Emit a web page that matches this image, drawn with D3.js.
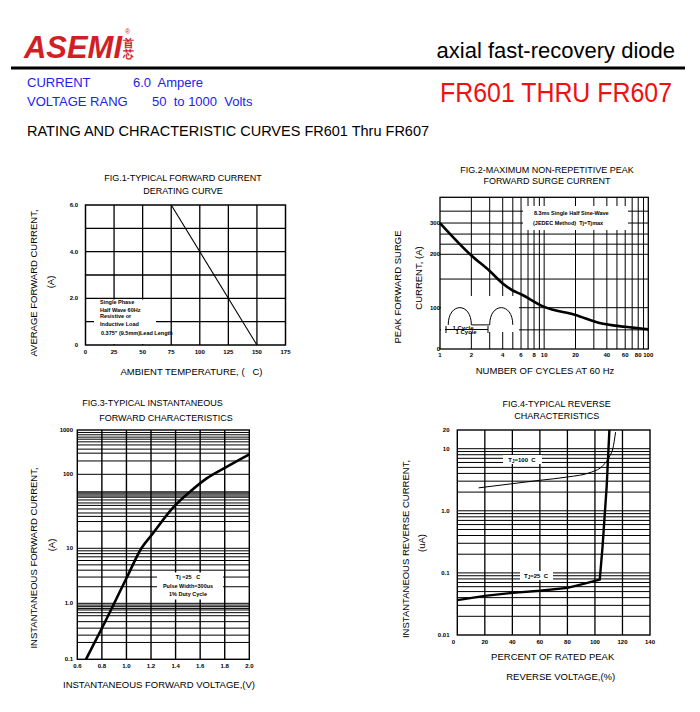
<!DOCTYPE html>
<html><head><meta charset="utf-8">
<script src="https://cdn.jsdelivr.net/npm/d3@7"></script>
<style>body{margin:0;background:#fff;} text{font-family:"Liberation Sans",Arial,sans-serif;white-space:pre;}</style>
</head><body><script>
// ---------------- DATA ----------------
const headerTitle = "axial fast-recovery diode";
const partRange = "FR601 THRU FR607";
const specLabels = ["CURRENT", "VOLTAGE RANG"];
const specValues = ["6.0  Ampere", "50  to 1000  Volts"];
const pageHeading = "RATING AND CHRACTERISTIC CURVES FR601 Thru FR607";

// Fig.1 derating
const f1Title = ["FIG.1-TYPICAL FORWARD CURRENT", "DERATING CURVE"];
const f1XTicks = [0, 25, 50, 75, 100, 125, 150, 175];
const f1YGrid = [1, 2, 3, 4, 5];
const f1YTicks = [0, 2, 4, 6];
const f1YTickLabels = ["0", "2.0", "4.0", "6.0"];
const f1Temp = [75, 150];
const f1Current = [6.0, 0];
const f1Notes = ["Single Phase", "Half Wave 60Hz", "Resistive or", "Inductive Load", "0.375\" (9.5mm)Lead Length"];

// Fig.2 surge
const f2Title = ["FIG.2-MAXIMUM NON-REPETITIVE PEAK", "FORWARD SURGE CURRENT"];
const f2XGrid = [2, 3, 4, 5, 6, 7, 8, 9, 10, 20, 30, 40, 50, 60, 70, 80, 90];
const f2XTicks = [1, 2, 4, 6, 8, 10, 20, 40, 60, 80, 100];
const f2YGrid = [75, 100, 145, 200, 228, 260, 300, 350];
const f2YTickVals = [58.5, 100, 200, 300];
const f2YTickLabels = ["0", "100", "200", "300"];
const f2Cycles = [1, 2, 3, 4, 5, 6, 10, 20, 34, 60, 100];
const f2Surge = [300, 197, 161, 137, 125, 119, 101, 91, 82, 78, 75.5];
const f2Notes = ["8.3ms Single Half Sine-Wave", "(JEDEC Method)  Tj=Tjmax"];

// Fig.3 forward
const f3Title = ["FIG.3-TYPICAL INSTANTANEOUS", "FORWARD CHARACTERISTICS"];
const f3XTicks = [0.6, 0.8, 1.0, 1.2, 1.4, 1.6, 1.8, 2.0];
const f3XTickLabels = ["0.6", "0.8", "1.0", "1.2", "1.4", "1.6", "1.8", "2.0"];
const f3YDecades = [0.1, 1, 10, 100, 1000];
const f3YDecadeLabels = ["0.1", "1.0", "10", "100", "1000"];
const f3YGrid = [0.2, 0.27, 0.36, 0.47, 0.6, 0.68, 0.76, 0.81, 0.87, 0.93,
                 2, 3, 4, 5, 6, 7, 8, 9,
                 17, 23, 27, 30, 34, 38, 41, 45, 49, 51, 54, 56, 58,
                 200, 300, 370, 460, 540, 620, 690, 780, 880];
const f3Voltage = [0.671, 0.8, 1.0, 1.122, 1.205, 1.381, 1.517, 1.653, 1.808, 2.0];
const f3Current = [0.1, 0.358, 2.85, 10, 15.1, 35.8, 58, 88, 144, 283];
const f3Notes = ["Tj =25   C", "Pulse Width=300us", "1% Duty Cycle"];

// Fig.4 reverse
const f4Title = ["FIG.4-TYPICAL REVERSE", "CHARACTERISTICS"];
const f4XTicks = [0, 20, 40, 60, 80, 100, 120, 140];
const f4YTicks = [0.01, 0.1, 1, 10, 20];
const f4YTickLabels = ["0.01", "0.1", "1.0", "10", "20"];
const f4YDecades = [0.01, 0.1, 1];
const f4YMultipliers = [2, 3, 4, 5, 6, 7, 8, 9, 10];
const f4Pct100 = [15.5, 60, 80, 97.5, 106, 111, 113, 115];
const f4Ir100 = [2.34, 3.1, 3.5, 4.2, 5.4, 7.8, 10, 18.5];
const f4Pct25 = [0, 20, 40, 60, 80, 91, 103.5, 105.5, 108.5, 110.5];
const f4Ir25 = [0.0365, 0.0427, 0.0477, 0.0515, 0.0575, 0.066, 0.078, 0.26, 2.43, 20];

// ---------------- DRAW ----------------
const svg = d3.select("body").append("svg").attr("width", 700).attr("height", 712)
  .style("background", "#fff");

function t(g, x, y, s, o = {}) {
  const e = g.append("text").attr("x", x).attr("y", y).text(s)
    .attr("font-size", o.size || 9).attr("fill", o.fill || "#000")
    .attr("text-anchor", o.anchor || "start").attr("xml:space", "preserve");
  if (o.weight) e.attr("font-weight", o.weight);
  if (o.style) e.attr("font-style", o.style);
  if (o.family) e.attr("font-family", o.family);
  if (o.len) e.attr("textLength", o.len).attr("lengthAdjust", "spacingAndGlyphs");
  return e;
}
function rt(g, x, y, s, size) {
  g.append("text").attr("transform", `translate(${x},${y}) rotate(-90)`)
    .attr("text-anchor", "middle").attr("dominant-baseline", "central")
    .attr("font-size", size).text(s);
}
function vGrid(g, vals, x, y0, y1, w) {
  g.append("g").selectAll("line").data(vals).join("line")
    .attr("x1", d => x(d)).attr("x2", d => x(d)).attr("y1", y0).attr("y2", y1)
    .attr("stroke", "#000").attr("stroke-width", w);
}
function hGrid(g, vals, y, x0, x1, w) {
  g.append("g").selectAll("line").data(vals).join("line")
    .attr("y1", d => y(d)).attr("y2", d => y(d)).attr("x1", x0).attr("x2", x1)
    .attr("stroke", "#000").attr("stroke-width", w);
}
function box(g, x, y, w, h, sw) {
  g.append("rect").attr("x", x).attr("y", y).attr("width", w).attr("height", h)
    .attr("fill", "none").attr("stroke", "#000").attr("stroke-width", sw);
}
function white(g, x, y, w, h) {
  g.append("rect").attr("x", x).attr("y", y).attr("width", w).attr("height", h).attr("fill", "#fff");
}

// ----- Header -----
const hd = svg.append("g");
t(hd, 24, 58, "ASEMI", {size: 31, weight: "bold", style: "italic", fill: "#d21f26", len: 98});
t(hd, 123, 47, "首", {size: 11, fill: "#d21f26", family: "Noto Sans CJK SC", weight: "bold"});
t(hd, 123, 58, "芯", {size: 11, fill: "#d21f26", family: "Noto Sans CJK SC", weight: "bold"});
t(hd, 125, 34, "®", {size: 7, fill: "#d21f26"});
t(hd, 675, 58, headerTitle, {size: 22, anchor: "end"});
hd.append("line").attr("x1", 11).attr("x2", 685).attr("y1", 68).attr("y2", 68)
  .attr("stroke", "#000").attr("stroke-width", 3);
t(hd, 27, 87, specLabels[0], {size: 13, fill: "#2222ee"});
t(hd, 133, 87, specValues[0], {size: 13, fill: "#2222ee"});
t(hd, 27, 106, specLabels[1], {size: 13, fill: "#2222ee"});
t(hd, 152, 106, specValues[1], {size: 13, fill: "#2222ee"});
t(hd, 440, 102, partRange, {size: 27, fill: "#ee1111", len: 232});
t(hd, 27, 136, pageHeading, {size: 14.5});

const tickOpt = {size: 6, weight: "bold"};

// ----- Fig.1 -----
{
  const g = svg.append("g");
  const x = d3.scaleLinear().domain([0, 175]).range([85.5, 285.5]);
  const y = d3.scaleLinear().domain([0, 6]).range([345, 205]);
  vGrid(g, f1XTicks.slice(1, -1), x, y(6), y(0), 1.3);
  hGrid(g, f1YGrid, y, x(0), x(175), 1.3);
  white(g, 94, 299.5, 62, 44.5);
  box(g, x(0), y(6), x(175) - x(0), y(0) - y(6), 1.5);
  const ny = [303.5, 312, 317.5, 326, 334.5];
  f1Notes.forEach((s, i) => t(g, i === 4 ? 101 : 100, ny[i], s, {size: 5.5, weight: "bold"}));
  g.append("path").datum(f1Temp.map((d, i) => [d, f1Current[i]]))
    .attr("d", d3.line().x(d => x(d[0])).y(d => y(d[1])))
    .attr("fill", "none").attr("stroke", "#000").attr("stroke-width", 1.1);
  f1YTicks.forEach((v, i) => t(g, 78, y(v) + 2, f1YTickLabels[i], {...tickOpt, anchor: "end"}));
  f1XTicks.forEach(v => t(g, x(v), 354, String(v), {...tickOpt, anchor: "middle"}));
  t(g, 183, 180.5, f1Title[0], {size: 9, anchor: "middle"});
  t(g, 183, 194, f1Title[1], {size: 9, anchor: "middle"});
  rt(g, 33, 283, "AVERAGE FORWARD CURRENT,", 9.5);
  rt(g, 50, 282, "(A)", 9.5);
  t(g, 191.5, 374.5, "AMBIENT TEMPERATURE, (   C)", {size: 9.5, anchor: "middle"});
}

// ----- Fig.2 -----
{
  const g = svg.append("g");
  const x = d3.scaleLog().domain([1, 100]).range([440, 648.3]);
  const y = d3.scaleLog().domain([58.5, 419]).range([349, 197.3]);
  vGrid(g, f2XGrid, x, 197.3, 349, 1);
  hGrid(g, f2YGrid, y, 440, 648.3, 1);
  white(g, 523, 206, 105, 24);
  white(g, 441, 296, 78, 36);
  box(g, 440, 197.3, 208.3, 151.7, 1.3);
  t(g, 534, 215, f2Notes[0], {size: 5.5, weight: "bold"});
  t(g, 533, 225, f2Notes[1], {size: 5.5, weight: "bold"});
  // half-sine sketch
  const hx = [[1.2, 2], [3, 5]];
  hx.forEach(([a, b]) => {
    const xa = x(a), xb = x(b), base = y(80), top = y(80) - 23;
    g.append("path").attr("d", `M${xa},${base} C${xa},${top} ${xb},${top} ${xb},${base}`)
      .attr("fill", "none").attr("stroke", "#000").attr("stroke-width", 1);
  });
  g.append("line").attr("x1", x(2)).attr("x2", x(3)).attr("y1", y(80)).attr("y2", y(80))
    .attr("stroke", "#000").attr("stroke-width", 1);
  const dy = 329.5;
  g.append("line").attr("x1", 445).attr("x2", 488).attr("y1", dy).attr("y2", dy).attr("stroke", "#000");
  [446, 488].forEach(xx => g.append("line").attr("x1", xx).attr("x2", xx).attr("y1", dy - 3.5).attr("y2", dy + 3.5).attr("stroke", "#000"));
  t(g, 463, 329.5, "1 Cycle", {size: 6, weight: "bold", anchor: "middle"});
  t(g, 466, 334, "1 Cycle", {size: 6, weight: "bold", anchor: "middle"});
  g.append("path").datum(f2Cycles.map((d, i) => [d, f2Surge[i]]))
    .attr("d", d3.line().x(d => x(d[0])).y(d => y(d[1])).curve(d3.curveMonotoneX))
    .attr("fill", "none").attr("stroke", "#000").attr("stroke-width", 2.6);
  f2YTickVals.forEach((v, i) => t(g, 440, y(v) + 2, f2YTickLabels[i], {...tickOpt, anchor: "end"}));
  f2XTicks.forEach(v => t(g, x(v), 356.5, String(v), {...tickOpt, anchor: "middle"}));
  t(g, 547, 173, f2Title[0], {size: 9, anchor: "middle"});
  t(g, 547, 184, f2Title[1], {size: 9, anchor: "middle"});
  rt(g, 397, 287, "PEAK FORWARD SURGE", 9.5);
  rt(g, 418, 278, "CURRENT, (A)", 9.5);
  t(g, 545, 374, "NUMBER OF CYCLES AT 60 Hz", {size: 9.5, anchor: "middle"});
}

// ----- Fig.3 -----
{
  const g = svg.append("g");
  const x = d3.scaleLinear().domain([0.6, 2.0]).range([77.3, 249.3]);
  const y = d3.scaleLog().domain(f3YDecades).range([659.3, 603.3, 548.3, 474.3, 430]);
  vGrid(g, f3XTicks.slice(1, -1), x, 430, 659.3, 1.4);
  hGrid(g, f3YDecades.slice(1, -1).concat(f3YGrid), y, 77.3, 249.3, 1);
  white(g, 157, 572.5, 66, 27);
  box(g, 77.3, 430, 172, 229.3, 1.4);
  t(g, 188, 579, f3Notes[0], {size: 5.5, weight: "bold", anchor: "middle"});
  t(g, 188, 587.5, f3Notes[1], {size: 5.5, weight: "bold", anchor: "middle"});
  t(g, 188, 596, f3Notes[2], {size: 5.5, weight: "bold", anchor: "middle"});
  g.append("path").datum(f3Voltage.map((d, i) => [d, f3Current[i]]))
    .attr("d", d3.line().x(d => x(d[0])).y(d => y(d[1])).curve(d3.curveMonotoneX))
    .attr("fill", "none").attr("stroke", "#000").attr("stroke-width", 2.6);
  f3YDecades.forEach((v, i) => t(g, 73, y(v) + 2, f3YDecadeLabels[i], {...tickOpt, anchor: "end"}));
  f3XTicks.forEach((v, i) => t(g, x(v), 668, f3XTickLabels[i], {...tickOpt, anchor: "middle"}));
  t(g, 152.5, 406, f3Title[0], {size: 9, anchor: "middle"});
  t(g, 166, 420.5, f3Title[1], {size: 9, anchor: "middle"});
  rt(g, 33, 558, "INSTANTANEOUS FORWARD CURRENT,", 9.5);
  rt(g, 51.7, 545, "(A)", 9.5);
  t(g, 159, 687.5, "INSTANTANEOUS FORWARD VOLTAGE,(V)", {size: 9.5, anchor: "middle"});
}

// ----- Fig.4 -----
{
  const g = svg.append("g");
  const x = d3.scaleLinear().domain([0, 140]).range([457.3, 650]);
  const y = d3.scaleLog().domain([0.01, 20]).range([635, 430]);
  const hv = [];
  f4YDecades.forEach(d => f4YMultipliers.forEach(m => hv.push(d * m)));
  vGrid(g, f4XTicks.slice(1, -1), x, 430, 635, 1.3);
  hGrid(g, hv, y, 457.3, 650, 1);
  white(g, 503, 455, 39, 9);
  white(g, 520, 571, 33, 9);
  box(g, 457.3, 430, 192.7, 205, 1.4);
  const lab = (cx, cy, rest) => {
    const e = g.append("text").attr("x", cx).attr("y", cy + 2).attr("text-anchor", "middle")
      .attr("font-size", 6).attr("font-weight", "bold");
    e.append("tspan").text("T");
    e.append("tspan").attr("font-size", 4.5).attr("dy", 1.5).text("J");
    e.append("tspan").attr("dy", -1.5).text(rest);
  };
  lab(522, 459.5, "=100  C");
  lab(536, 575.5, "=25  C");
  g.append("path").datum(f4Pct100.map((d, i) => [d, f4Ir100[i]]))
    .attr("d", d3.line().x(d => x(d[0])).y(d => y(d[1])).curve(d3.curveMonotoneX))
    .attr("fill", "none").attr("stroke", "#000").attr("stroke-width", 1);
  g.append("path").datum(f4Pct25.map((d, i) => [d, f4Ir25[i]]))
    .attr("d", d3.line().x(d => x(d[0])).y(d => y(d[1])))
    .attr("fill", "none").attr("stroke", "#000").attr("stroke-width", 2.4);
  f4YTicks.forEach((v, i) => t(g, 449.5, y(v) + 2, f4YTickLabels[i], {...tickOpt, anchor: "end"}));
  f4XTicks.forEach(v => t(g, x(v) - (v === 0 ? 4 : 0), 644, String(v), {...tickOpt, anchor: "middle"}));
  t(g, 556.7, 407, f4Title[0], {size: 9, anchor: "middle"});
  t(g, 556.7, 418.5, f4Title[1], {size: 9, anchor: "middle"});
  rt(g, 405, 549, "INSTANTANEOUS REVERSE CURRENT,", 9.5);
  rt(g, 421.7, 543, "(uA)", 9.5);
  t(g, 552.7, 660, "PERCENT OF RATED PEAK", {size: 9.5, anchor: "middle"});
  t(g, 560.7, 680, "REVERSE VOLTAGE,(%)", {size: 9.5, anchor: "middle"});
}
</script></body></html>
